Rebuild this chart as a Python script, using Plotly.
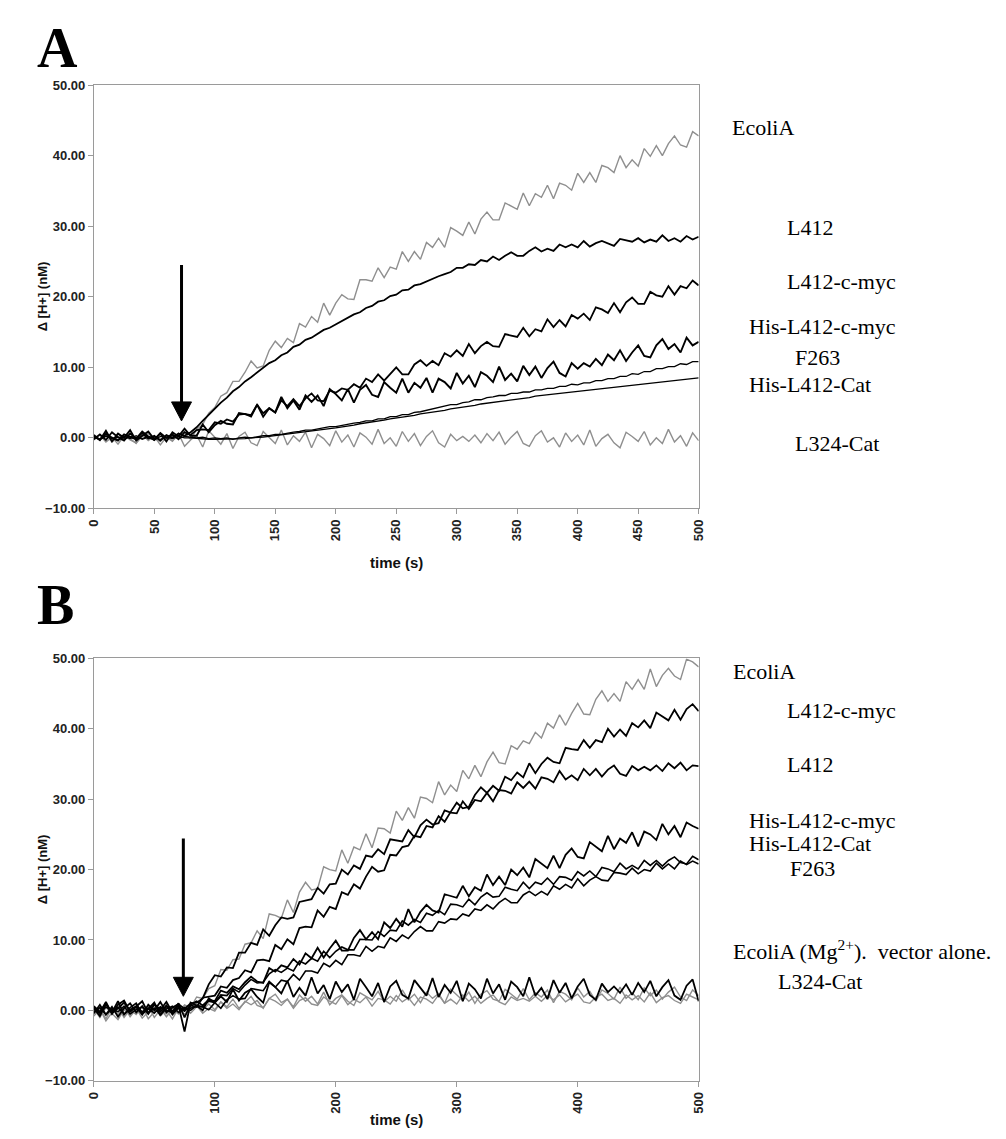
import plotly.graph_objects as go

# time axis (s), sampled every 5 s
t = list(range(0, 501, 5))

# ---------------- Panel A ----------------
A_EcoliA = [0.3, -0.2, 0.5, -0.6, 0.1, 0.4, -0.3, -0.7, 0.2, 0.6,
            -0.1, -0.5, 0.3, -0.4, 0.5, 0.8, -0.2,
            1.2, 1.9, 3.5, 4.3, 5.9, 6.4, 8.0, 8.0, 9.3, 10.9,
            9.9, 10.2, 12.4, 13.7, 12.8, 14.1, 13.5, 16.2, 15.7, 17.2,
            16.4, 19.1, 17.4, 19.1, 20.3, 19.7, 19.6, 22.4, 22.4, 22.2,
            24.1, 22.7, 24.2, 23.9, 26.4, 25.0, 26.4, 25.3, 27.7, 27.0,
            28.3, 27.0, 29.8, 29.3, 28.7, 30.6, 28.9, 31.0, 32.0, 30.9,
            30.9, 33.3, 32.8, 32.4, 34.7, 32.9, 34.6, 34.1, 35.8, 33.9,
            36.1, 35.8, 35.1, 37.5, 36.2, 37.6, 36.2, 38.6, 38.3, 37.6,
            40.0, 38.3, 39.4, 38.5, 41.0, 39.9, 41.4, 40.0, 41.7, 42.8,
            41.5, 41.2, 43.4, 42.8]
A_L412 = [0.2, -0.3, 0.6, 0.0, -0.4, 0.5, 0.1, -0.2, 0.7, -0.1,
          0.3, -0.4, 0.4, 0.0, 0.6, 0.3, 0.8, 1.5, 2.4, 3.3,
          4.1, 5.0, 5.7, 6.6, 7.2, 8.0, 8.6, 9.3, 9.9, 10.6,
          11.0, 11.7, 12.1, 12.9, 13.2, 13.9, 14.2, 14.8, 15.3, 15.6,
          16.1, 16.6, 17.0, 17.5, 17.8, 18.4, 18.7, 19.3, 19.5, 20.1,
          20.3, 20.9, 21.0, 21.6, 21.8, 22.2, 22.5, 22.9, 23.2, 23.5,
          24.1, 24.1, 24.6, 24.5, 25.2, 25.0, 25.7, 25.2, 25.8, 26.3,
          25.8, 25.8, 26.5, 27.0, 26.4, 26.8, 26.5, 27.4, 27.0, 27.4,
          27.0, 27.9, 27.1, 27.6, 27.9, 27.5, 27.2, 28.2, 28.0, 27.8,
          28.3, 27.7, 28.1, 27.8, 28.7, 27.9, 28.3, 27.8, 28.6, 28.1,
          28.5]
A_L412cmyc = [-0.2, 0.5, -0.3, 0.8, 0.1, -0.4, 0.6, -0.1, 0.9, 0.2,
              -0.3, 0.7, 0.0, 0.5, -0.2, 0.8, 0.4,
              1.1, 1.2, 1.1, 2.2, 2.0, 2.6, 2.3, 3.3, 3.4, 3.0,
              4.7, 3.5, 4.2, 3.6, 5.3, 4.5, 5.5, 4.5, 5.6, 6.3,
              5.3, 5.2, 6.7, 6.4, 7.0, 6.8, 7.6, 7.1, 8.4, 7.9,
              9.0, 8.1, 9.1, 10.0, 9.0, 9.0, 10.4, 11.0, 10.2, 10.9,
              10.3, 12.0, 11.5, 12.4, 11.6, 13.3, 12.0, 13.0, 13.6, 13.0,
              12.9, 14.7, 14.5, 14.3, 15.6, 14.4, 15.4, 15.1, 16.8, 15.7,
              16.7, 15.8, 17.4, 16.9, 17.6, 16.7, 18.5, 18.2, 17.7, 19.1,
              17.8, 19.2, 19.9, 19.0, 19.0, 20.7, 20.2, 20.0, 21.5, 20.3,
              21.5, 21.2, 22.3, 21.6]
A_HisL412cmyc = [0.4, -0.3, 1.0, -0.5, 0.6, 0.0, 1.1, -0.4, 0.3, 0.9,
                 -0.2, 0.6, -0.5, 0.8, 0.2, 1.3, 0.3,
                 0.3, 1.9, 0.8, 1.8, 2.4, 2.0, 1.9, 3.5, 3.4, 3.2,
                 4.7, 3.0, 4.2, 3.6, 5.8, 4.2, 5.3, 4.0, 6.0, 5.1,
                 6.0, 4.5, 6.9, 6.2, 5.3, 6.9, 5.0, 6.8, 7.5, 6.1,
                 5.8, 7.9, 7.1, 6.4, 8.4, 6.4, 7.8, 7.1, 8.5, 6.4,
                 8.4, 7.9, 7.0, 9.2, 7.7, 8.8, 7.2, 9.3, 8.8, 7.9,
                 10.1, 8.2, 9.1, 8.0, 10.2, 8.9, 10.1, 8.5, 9.9, 10.8,
                 9.2, 8.7, 10.6, 9.8, 10.6, 10.1, 11.2, 10.3, 11.8, 11.0,
                 12.4, 10.9, 12.1, 13.1, 11.6, 11.4, 13.1, 14.0, 12.6, 13.3,
                 12.1, 14.2, 13.1, 13.6]
A_F263 = [0.2, -0.2, 0.3, 0.0, -0.3, 0.2, -0.1, 0.3, -0.2, 0.1,
          -0.3, 0.2, 0.0, 0.3, -0.1, 0.2, 0.1, 0.0, 0.1, -0.1,
          0.0, -0.1, 0.0, -0.2, 0.0, 0.1, 0.0, 0.2, 0.3, 0.3,
          0.5, 0.5, 0.7, 0.8, 0.9, 1.1, 1.1, 1.3, 1.4, 1.6,
          1.6, 1.8, 1.9, 2.1, 2.2, 2.4, 2.4, 2.7, 2.7, 3.0,
          3.0, 3.3, 3.3, 3.6, 3.7, 3.9, 4.0, 4.3, 4.4, 4.7,
          4.7, 5.0, 5.1, 5.4, 5.4, 5.7, 5.8, 6.0, 6.0, 6.3,
          6.3, 6.5, 6.5, 6.8, 6.8, 7.0, 7.0, 7.3, 7.3, 7.6,
          7.5, 7.8, 7.8, 8.1, 8.1, 8.4, 8.4, 8.7, 8.7, 9.1,
          9.0, 9.4, 9.4, 9.8, 9.8, 10.1, 10.1, 10.5, 10.4, 10.8,
          10.8]
A_HisL412Cat = [0.1, -0.2, 0.2, -0.1, 0.1, -0.2, 0.2, 0.0, -0.1, 0.2,
                0.0, -0.2, 0.1, -0.1, 0.2, 0.0, 0.0, -0.1, -0.1, -0.2,
                -0.2, -0.2, -0.2, -0.2, -0.1, -0.1, 0.0, 0.0, 0.1, 0.2,
                0.3, 0.4, 0.5, 0.6, 0.7, 0.8, 0.9, 1.0, 1.1, 1.3,
                1.4, 1.5, 1.7, 1.8, 2.0, 2.1, 2.2, 2.4, 2.5, 2.7,
                2.8, 2.9, 3.1, 3.2, 3.4, 3.5, 3.6, 3.8, 3.9, 4.1,
                4.2, 4.3, 4.5, 4.6, 4.8, 4.9, 5.0, 5.1, 5.3, 5.4,
                5.5, 5.6, 5.7, 5.9, 6.0, 6.1, 6.2, 6.3, 6.4, 6.5,
                6.6, 6.7, 6.8, 6.9, 7.0, 7.1, 7.2, 7.3, 7.4, 7.5,
                7.6, 7.7, 7.8, 7.9, 8.0, 8.1, 8.2, 8.3, 8.4, 8.4,
                8.5]
A_L324Cat = [-0.3, 0.4, -0.6, 0.1, -0.9, 0.3, -0.1, -0.8, 0.5, -0.4,
             0.2, -1.0, 0.1, -0.5, 0.6, -1.2, -0.3,
             0.4, -1.3, 1.0, 0.1, -0.9, 0.6, -1.5, 0.2, 0.8, -0.7,
             -1.1, 0.9, 0.0, -0.8, 1.1, -1.0, 0.3, -0.5, 0.8, -1.4,
             0.5, -0.1, -1.1, 1.0, -0.6, 0.4, -1.3, 0.7, 0.1, -0.9,
             1.2, -0.8, 0.0, -1.2, 0.9, -0.5, 0.6, -1.1, 0.2, 1.0,
             -0.7, -1.3, 0.5, -0.4,
             0.2, -0.5, 0.4, -0.7, 0.6, -0.4, 0.8, -0.9, 0.1, 0.9,
             -0.8, -1.2, 0.3, 1.0, -0.6, 0.0, -1.3, 0.7, -0.5, 0.4,
             -1.0, 1.1, -1.2, -0.1, 0.5, -0.7, -1.4, 0.8, 0.2, -0.5,
             0.9, -1.0, 0.0, -0.8, 1.2, -0.6, 0.3, -1.2, 0.7, -0.4]

# ---------------- Panel B ----------------
B_EcoliA = [-0.5, 0.3, -1.2, 0.4, -0.6, 0.5, -0.9, 0.2, -0.4, 0.6,
            -1.0, 0.1, -0.5, 0.4, -0.3, 0.8, 0.4,
            1.9, 1.7, 3.1, 3.5, 5.8, 5.7, 7.2, 7.3, 9.4, 9.6,
            11.3, 10.2, 13.7, 13.5, 13.1, 15.7, 13.9, 16.8, 18.2, 17.1,
            17.3, 20.4, 20.0, 19.8, 22.8, 20.9, 23.2, 22.8, 25.1, 23.1,
            25.9, 25.8, 25.2, 28.3, 27.0, 28.8, 27.3, 30.3, 30.1, 29.5,
            32.5, 30.6, 32.0, 31.1, 34.1, 32.9, 34.8, 33.2, 35.3, 36.7,
            35.2, 35.0, 37.6, 37.1, 38.3, 37.9, 39.5, 38.7, 40.8, 40.1,
            42.0, 40.5, 42.2, 43.6, 42.1, 42.0, 44.2, 45.4, 43.9, 45.0,
            43.9, 46.7, 45.6, 47.0, 45.6, 48.5, 46.0, 47.6, 48.6, 47.5,
            47.0, 49.9, 49.5, 48.8]
B_L412 = [0.6, -0.2, 1.0, -0.4, 0.3, 1.1, -0.1, 0.5, -0.6, 0.8,
          0.0, 1.2, -0.3, 0.4, 0.9, 0.2, 1.0,
          1.1, 1.7, 3.7, 5.0, 4.8, 6.1, 6.0, 8.2, 8.2, 9.6,
          9.3, 11.5, 10.6, 12.1, 13.2, 13.0, 13.2, 15.4, 15.6, 15.8,
          17.4, 16.6, 17.9, 18.0, 20.0, 19.3, 20.6, 20.1, 22.0, 21.8,
          22.9, 22.2, 24.3, 24.2, 24.0, 25.6, 24.6, 26.3, 27.1, 26.4,
          26.6, 28.4, 28.1, 28.0, 29.7, 28.6, 29.9, 29.7, 30.9, 29.7,
          31.3, 31.2, 30.8, 32.4, 31.6, 32.5, 31.5, 33.1, 32.9, 32.4,
          34.0, 32.8, 33.4, 32.7, 34.3, 33.4, 34.3, 33.2, 34.2, 34.8,
          33.6, 33.3, 34.7, 34.1, 34.6, 34.1, 34.8, 34.0, 35.1, 34.4,
          35.2, 34.1, 34.8, 34.7]
B_L412cmyc = [-0.4, 0.8, -0.6, 0.5, -0.9, 0.3, 1.0, -0.3, 0.6, -0.5,
              0.9, -0.2, 0.7, -0.6, 0.4, -0.1, 0.7,
              0.5, 1.8, 1.9, 2.1, 3.4, 3.2, 4.3, 4.6, 5.7, 5.4,
              7.1, 7.2, 7.0, 9.3, 8.7, 10.1, 9.4, 11.7, 11.9, 11.8,
              14.2, 13.3, 14.7, 14.4, 16.8, 16.4, 17.9, 17.3, 19.0, 20.4,
              19.7, 19.9, 22.1, 22.0, 23.2, 23.4, 24.8, 24.6, 26.2, 26.0,
              27.6, 26.8, 28.2, 29.5, 28.7, 28.9, 30.6, 31.7, 30.9, 31.9,
              31.2, 33.2, 32.7, 33.8, 33.1, 35.1, 33.7, 35.0, 35.9, 35.3,
              35.1, 37.3, 37.1, 37.0, 38.4, 37.3, 38.4, 38.1, 40.0, 38.9,
              39.9, 39.0, 40.8, 40.2, 41.2, 40.1, 42.3, 41.8, 41.2, 42.7,
              41.3, 42.8, 43.5, 42.5]
B_HisL412cmyc = [0.3, -0.8, 0.9, -0.3, 1.3, -0.6, 0.4, 1.0, -0.5, 0.2,
                 1.1, -0.7, 0.6, -0.2, 1.0, -1.0, 0.8,
                 1.3, 0.7, 1.5, 1.3, 2.8, 2.5, 3.4, 3.0, 4.0, 4.8,
                 4.1, 3.9, 6.0, 5.5, 6.4, 6.1, 7.3, 6.5, 8.1, 7.4,
                 8.9, 7.5, 8.8, 9.9, 8.5, 8.5, 10.3, 11.4, 10.1, 11.1,
                 10.1, 12.5, 11.7, 13.0, 11.9, 14.4, 12.5, 14.0, 15.0, 14.2,
                 13.9, 16.5, 16.3, 16.0, 17.7, 16.2, 17.5, 17.0, 19.3, 17.8,
                 19.0, 17.8, 20.0, 19.2, 20.3, 18.9, 21.5, 20.9, 20.2, 22.0,
                 20.2, 22.1, 23.0, 21.8, 21.6, 23.9, 23.2, 22.6, 24.8, 22.9,
                 24.4, 23.8, 25.3, 23.3, 25.4, 25.0, 24.2, 26.5, 25.0, 26.2,
                 24.6, 26.7, 26.2, 25.8]
B_HisL412Cat = [0.2, -0.4, 0.5, -0.1, 0.4, -0.5, 0.1, 0.6, -0.2, 0.3,
                -0.4, 0.5, 0.0, -0.3, 0.4, 0.1, 0.3,
                0.6, 0.5, 1.3, 1.1, 2.2, 2.1, 3.1, 2.6, 3.6, 4.4,
                3.9, 4.0, 5.2, 5.8, 5.4, 6.0, 5.6, 7.0, 6.6, 7.4,
                7.0, 8.4, 7.5, 8.4, 9.0, 8.6, 8.6, 10.1, 10.1, 10.0,
                11.2, 10.5, 11.4, 11.3, 12.7, 12.1, 12.9, 12.5, 13.8, 13.5,
                14.2, 13.6, 15.1, 15.0, 14.7, 15.8, 15.0, 16.1, 16.7, 16.1,
                16.2, 17.5, 17.2, 17.0, 18.2, 17.3, 18.2, 17.9, 18.8, 17.9,
                19.0, 18.9, 18.5, 19.7, 19.1, 19.8, 19.0, 20.3, 20.1, 19.7,
                20.9, 20.1, 20.6, 20.1, 21.3, 20.6, 21.3, 20.5, 21.3, 21.8,
                21.0, 20.8, 21.9, 21.4]
B_F263 = [-0.3, 0.4, -0.6, 0.2, -0.2, 0.6, -0.5, 0.1, 0.5, -0.4,
          0.3, -0.6, 0.2, 0.6, -0.3, 0.4, 0.0,
          0.7, 0.5, 0.1, 1.1, 0.3, 1.5, 2.1, 1.6, 1.7, 3.1,
          2.9, 2.8, 4.1, 3.3, 4.3, 4.1, 5.1, 4.3, 5.6, 5.6,
          5.3, 6.7, 6.2, 7.1, 6.5, 7.9, 7.9, 7.7, 9.1, 8.4,
          9.1, 8.9, 10.3, 9.8, 10.7, 10.2, 11.2, 11.9, 11.3, 11.3,
          12.6, 12.4, 13.0, 12.9, 13.7, 13.4, 14.4, 14.2, 15.0, 14.4,
          15.3, 15.9, 15.3, 15.3, 16.4, 16.9, 16.3, 16.9, 16.4, 17.7,
          17.2, 17.9, 17.4, 18.7, 17.7, 18.5, 19.0, 18.5, 18.4, 19.6,
          19.5, 19.3, 20.2, 19.4, 20.0, 19.8, 20.9, 20.1, 20.8, 20.1,
          21.2, 20.7, 21.2, 20.8]
B_EcoliA_Mg = [-0.8, 0.2, -1.5, -0.3, 0.4, -1.0, 0.1, -0.6, 0.5, -1.2,
               -0.2, 0.3, -0.9, 0.2, -0.5, 0.6, -0.4,
               0.5, 0.1, 0.9, 0.1, 1.2, 0.5, 1.6, 0.3, 1.2, 2.0,
               0.7, 0.4, 1.7, 2.3, 1.1, 1.6, 0.5, 2.2, 1.3, 2.0,
               0.9, 2.6, 0.8, 1.7, 2.2, 1.3, 0.7, 2.5, 2.0, 1.5,
               2.7, 1.2, 2.0, 1.3, 2.9, 1.5, 2.3, 1.1, 2.6, 1.7,
               2.4, 1.0, 3.0, 2.2, 1.4, 2.6, 1.0, 2.3, 2.8, 1.6,
               1.3, 3.0, 2.3, 1.6, 3.1, 1.5, 2.5, 1.9, 2.9, 1.1,
               2.7, 2.3, 1.5, 3.2, 1.9, 2.7, 1.3, 2.9, 2.4, 1.6,
               3.3, 1.7, 2.5, 1.5, 3.2, 2.1, 2.9, 1.6, 2.6, 3.3,
               1.9, 1.4, 2.9, 2.1]
B_vector = [0.2, -1.0, 0.4, -0.5, -1.3, 0.1, -0.7, 0.3, -1.1, -0.2,
            0.5, -0.8, 0.0, -1.2, 0.3, -0.6, 0.5,
            0.7, -0.4, 0.3, -0.1, 1.2, 0.3, 0.9, 0.1, 1.3, 0.8,
            1.4, 0.3, 1.7, 1.3, 0.7, 1.6, 0.3, 1.4, 1.8, 0.9,
            0.7, 1.9, 1.3, 0.9, 2.1, 0.8, 1.6, 1.1, 1.9, 0.6,
            1.7, 1.5, 0.9, 2.1, 1.2, 1.8, 0.7, 1.9, 1.6, 1.0,
            2.2, 1.0, 1.6, 0.9, 2.2, 1.3, 2.0, 1.0, 1.7, 2.2,
            1.2, 0.8, 1.9, 1.4, 1.7, 1.3, 2.0, 1.3, 2.1, 1.5,
            2.2, 1.2, 1.8, 2.3, 1.2, 1.0, 1.9, 2.3, 1.4, 1.7,
            1.0, 2.2, 1.5, 2.1, 1.2, 2.5, 1.1, 1.8, 2.1, 1.4,
            1.0, 2.3, 1.9, 1.5]
B_L324Cat = [0.5, -0.3, 1.2, -0.5, 0.8, 1.4, -0.2, 0.6, 1.3, -0.4,
             0.9, 0.1, 1.2, -0.3, 0.7, -3.0, 1.1,
             0.7, 0.0, 1.7, 1.1, 2.0, 1.2, 3.0, 1.4, 2.5, 3.0,
             1.9, 1.1, 4.0, 3.3, 2.4, 4.2, 1.9, 3.2, 2.1, 4.7,
             2.4, 3.6, 1.6, 4.1, 2.6, 3.7, 1.5, 4.5, 3.3, 2.0,
             3.9, 1.2, 3.4, 4.2, 2.2, 1.7, 4.3, 3.2, 2.1, 4.6,
             1.9, 3.6, 2.5, 4.2, 1.3, 3.8, 3.0, 1.7, 4.5, 2.4,
             3.7, 1.5, 4.1, 3.3, 2.0, 4.7, 2.1, 3.2, 1.6, 4.3,
             2.5, 3.9, 1.7, 3.4, 4.5, 2.2, 1.5, 3.8, 2.6, 3.4,
             2.5, 3.7, 2.2, 3.9, 2.6, 4.2, 2.0, 3.3, 4.3, 2.1,
             1.5, 3.5, 4.4, 1.3]

# labels at the right of each panel
labels_A = ["EcoliA", "L412", "L412-c-myc", "His-L412-c-myc", "F263",
            "His-L412-Cat", "L324-Cat"]
labels_B = ["EcoliA", "L412-c-myc", "L412", "His-L412-c-myc", "His-L412-Cat",
            "F263", "EcoliA (Mg<sup>2+</sup>).\u00a0\u00a0vector alone.", "L324-Cat"]

for s in [A_EcoliA, A_L412, A_L412cmyc, A_HisL412cmyc, A_F263, A_HisL412Cat,
          A_L324Cat, B_EcoliA, B_L412, B_L412cmyc, B_HisL412cmyc, B_HisL412Cat,
          B_F263, B_EcoliA_Mg, B_vector, B_L324Cat]:
    assert len(s) == len(t), len(s)

W, H = 1006, 1139
OFF = 8  # page body margin
GRAY = "#8f8f8f"
AX = "#9a9a9a"

fig = go.Figure()


def add(y, color, width, xa, ya):
    fig.add_trace(go.Scatter(x=t, y=y, mode="lines",
                             line=dict(color=color, width=width),
                             xaxis=xa, yaxis=ya, showlegend=False,
                             hoverinfo="skip"))


# panel A
add(A_L324Cat, GRAY, 1.4, "x", "y")
add(A_EcoliA, GRAY, 1.4, "x", "y")
add(A_HisL412Cat, "black", 1.3, "x", "y")
add(A_F263, "black", 1.3, "x", "y")
add(A_HisL412cmyc, "black", 1.9, "x", "y")
add(A_L412cmyc, "black", 1.8, "x", "y")
add(A_L412, "black", 1.8, "x", "y")

# panel B
add(B_EcoliA_Mg, GRAY, 1.4, "x2", "y2")
add(B_vector, GRAY, 1.4, "x2", "y2")
add(B_EcoliA, GRAY, 1.4, "x2", "y2")
add(B_L324Cat, "black", 1.8, "x2", "y2")
add(B_F263, "black", 1.6, "x2", "y2")
add(B_HisL412Cat, "black", 1.6, "x2", "y2")
add(B_HisL412cmyc, "black", 1.8, "x2", "y2")
add(B_L412, "black", 1.8, "x2", "y2")
add(B_L412cmyc, "black", 1.8, "x2", "y2")


def fx(px):
    return (px - OFF) / W


def fy(py):
    return 1 - (py - OFF) / H


px_l, px_r = 87, 701
A_top, A_bot = 79, 508
B_top, B_bot = 660, 1088

tickfont = dict(family="Liberation Sans, Arial", size=13, color="#222", weight="bold")
common_x = dict(range=[0, 500], showline=True, linecolor=AX, linewidth=1, mirror=True,
                ticks="outside", ticklen=5, tickcolor=AX, tickangle=-90,
                tickfont=tickfont, showgrid=False, zeroline=False)
common_y = dict(range=[-10, 50], dtick=10, tickformat=".2f", showline=True,
                linecolor=AX, linewidth=1, mirror=True, ticks="outside",
                ticklen=5, tickcolor=AX, tickfont=tickfont, showgrid=False,
                zeroline=False)

fig.update_layout(
    width=W, height=H, margin=dict(l=0, r=0, t=0, b=0),
    paper_bgcolor="white", plot_bgcolor="white",
    xaxis=dict(domain=[fx(px_l), fx(px_r)], anchor="y", dtick=50, **common_x),
    yaxis=dict(domain=[fy(A_bot), fy(A_top)], anchor="x", **common_y),
    xaxis2=dict(domain=[fx(px_l), fx(px_r)], anchor="y2", dtick=100, **common_x),
    yaxis2=dict(domain=[fy(B_bot), fy(B_top)], anchor="x2", **common_y),
)

# arrows marking the addition (shaft + filled triangular head)
for xr, yr, xa, ytop, ytip in [("x", "y", 72.5, 24.5, 2.4), ("x2", "y2", 74, 24.4, 2.0)]:
    fig.add_shape(type="line", xref=xr, yref=yr, x0=xa, x1=xa, y0=ytop, y1=ytip + 2.0,
                  line=dict(color="black", width=3))
    fig.add_shape(type="path", xref=xr, yref=yr, xsizemode="pixel", ysizemode="pixel",
                  xanchor=xa, yanchor=ytip, path="M -10 19 L 10 19 L 0 0 Z",
                  fillcolor="black", line=dict(color="black", width=1))

# panel letters
LETTER_FONT = dict(family="Liberation Serif, Times New Roman", size=56, color="black")
fig.add_annotation(x=fx(27), y=1.0, xref="paper", yref="paper",
                   text="<b>A</b>", showarrow=False,
                   xanchor="left", yanchor="top", font=LETTER_FONT)
fig.add_annotation(x=fx(27), y=fy(606), xref="paper", yref="paper",
                   text="<b>B</b>", showarrow=False,
                   xanchor="left", yanchor="middle", font=LETTER_FONT)

# axis titles
for cy_x, cy_y in [(563, (A_top + A_bot) / 2), (1127, (B_top + B_bot) / 2)]:
    fig.add_annotation(x=fx((px_l + px_r) / 2), y=fy(cy_x), xref="paper",
                       yref="paper", text="<b>time (s)</b>", showarrow=False,
                       xanchor="center", yanchor="middle",
                       font=dict(family="Liberation Sans, Arial", size=15, color="#111"))
    fig.add_annotation(x=fx(35), y=fy(cy_y), xref="paper", yref="paper",
                       text="<b>\u0394 [H+] (nM)</b>", showarrow=False,
                       textangle=-90, xanchor="center", yanchor="middle",
                       font=dict(family="Liberation Sans, Arial", size=13, color="#111"))

# curve labels
pos_A = [(733, 122), (789, 223), (789, 278), (750, 324), (797, 355), (750, 382), (797, 442)]
pos_B = [(734, 673), (789, 713), (789, 768), (750, 824), (750, 848), (792, 873),
         (734, 955), (779, 987)]
for labs, poss in [(labels_A, pos_A), (labels_B, pos_B)]:
    for lab, (lx, ly) in zip(labs, poss):
        fig.add_annotation(x=fx(lx), y=fy(ly), xref="paper", yref="paper",
                           text=lab, showarrow=False, xanchor="left",
                           yanchor="middle",
                           font=dict(family="Liberation Serif, Times New Roman",
                                     size=22, color="black"))

fig.write_html("out.html")
